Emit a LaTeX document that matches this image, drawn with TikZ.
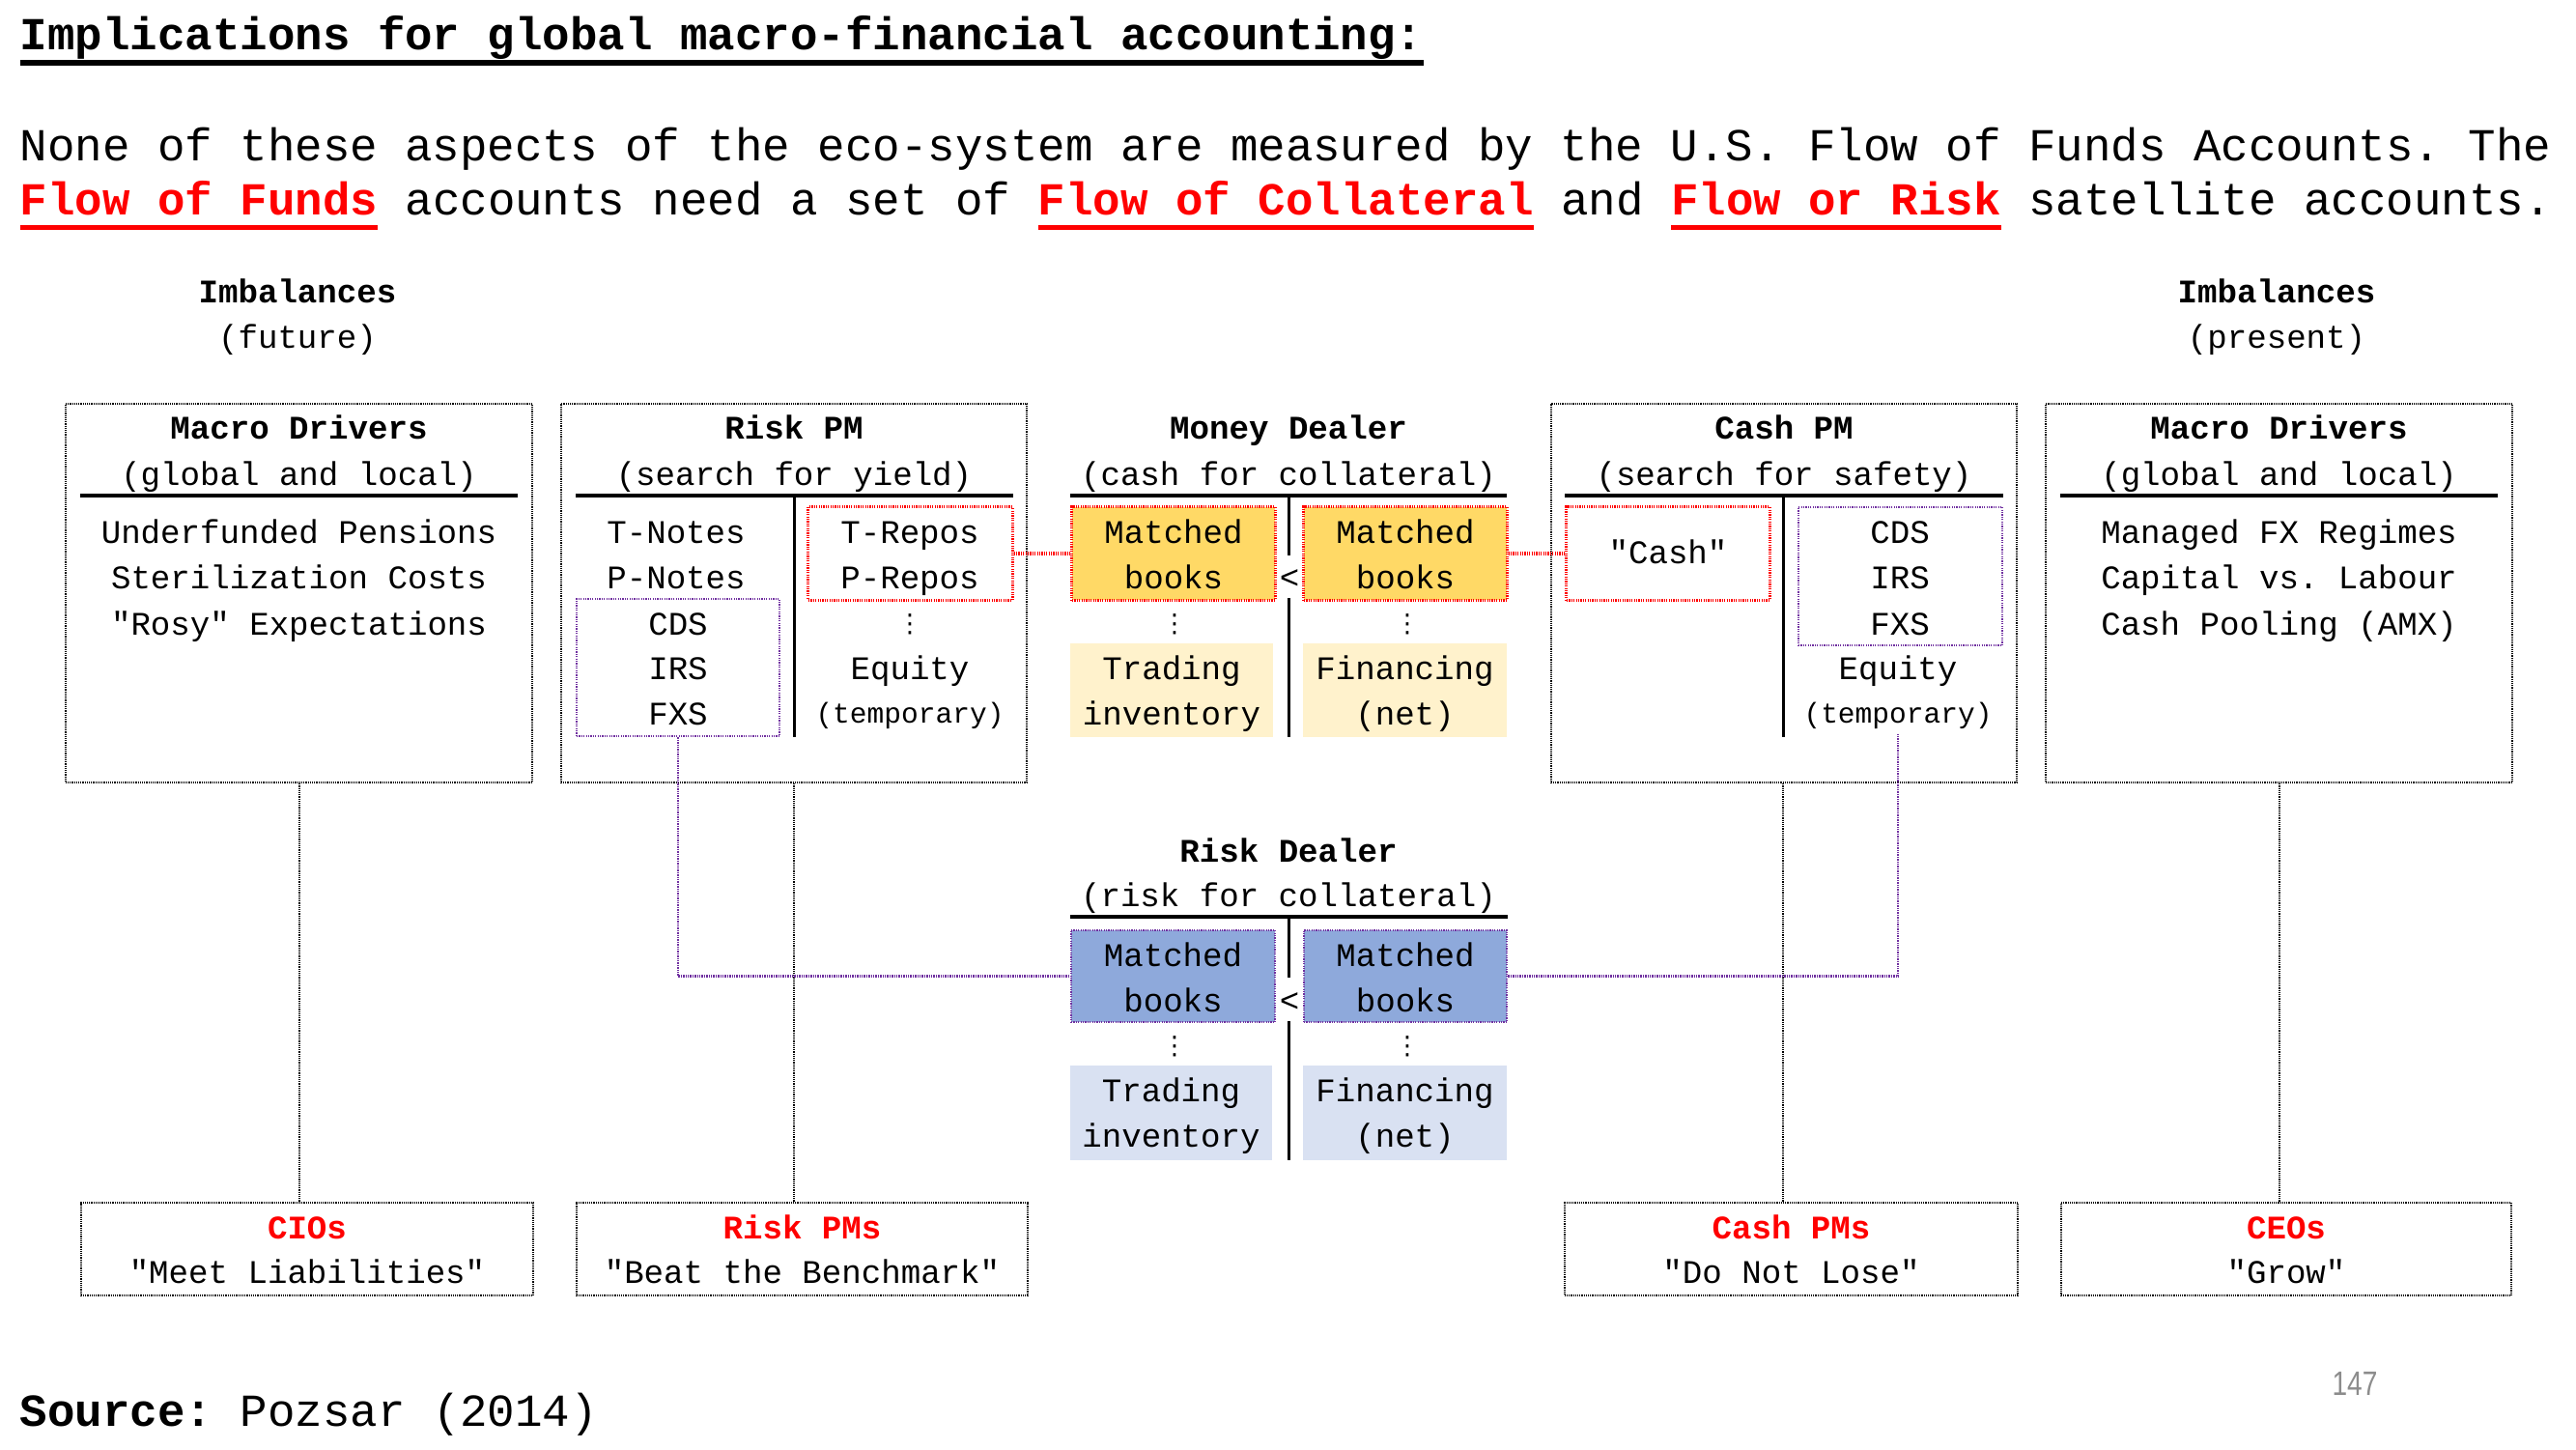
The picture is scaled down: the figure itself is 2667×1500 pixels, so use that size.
\documentclass[tikz,border=0pt]{standalone}
\usepackage{fontspec}
\setmainfont{Liberation Mono}[Ligatures=TeXOff]
\newfontfamily\pagenumfont{Liberation Sans}
\newfontfamily\dotsfont{DejaVu Sans}
\definecolor{gold}{HTML}{FFD966}
\definecolor{lightgold}{HTML}{FFF2CC}
\definecolor{bluebk}{HTML}{8EA9DB}
\definecolor{lightbluebk}{HTML}{D9E1F2}
\definecolor{purp}{HTML}{7030A0}
\definecolor{pgray}{HTML}{8C8C8C}
\newcommand\myul[4]{\setbox0\hbox{#4}\rlap{\textcolor{#1}{\rule[-#2]{\wd0}{#3}}}\box0\relax}
\AtBeginDocument{\frenchspacing}
\begin{document}
\begin{tikzpicture}[x=0.01cm,y=-0.01cm,
  big/.style={font=\fontsize{13.5}{16}\selectfont, inner sep=0, anchor=base west},
  sm/.style={font=\fontsize{9.7}{12}\selectfont, inner sep=0, anchor=base},
  smb/.style={font=\fontsize{9.7}{12}\selectfont\bfseries, inner sep=0, anchor=base},
  tmp/.style={font=\fontsize{8.4}{10}\selectfont, inner sep=0, anchor=base},
  vd/.style={font=\dotsfont\fontsize{7.5}{8}\selectfont, inner sep=0, anchor=center},
  frame/.style={draw=black, line width=0.022cm, dash pattern=on 0.012cm off 0.01cm, inner sep=0},
  redbox/.style={draw=red, line width=0.03cm, dash pattern=on 0.012cm off 0.012cm, inner sep=0},
  purbox/.style={draw=purp, line width=0.028cm, dash pattern=on 0.012cm off 0.012cm, inner sep=0},
  plainbox/.style={inner sep=0},
  tline/.style={line width=0.04cm},
  dline/.style={line width=0.03cm},
  vline/.style={draw=black, line width=0.02cm, dash pattern=on 0.012cm off 0.01cm},
  redline/.style={draw=red, line width=0.035cm, dash pattern=on 0.012cm off 0.012cm},
  purline/.style={draw=purp, line width=0.026cm, dash pattern=on 0.014cm off 0.01cm}
]
\path[use as bounding box] (0,0) rectangle (2667,1500);

% header
\node[big, font=\fontsize{13.5}{16}\selectfont\bfseries] (title) at (20,52)
  {\myul{black}{0.16cm}{0.06cm}{Implications for global macro-financial accounting:}};
\node[big] (line1) at (20,167)
  {None of these aspects of the eco-system are measured by the U.S. Flow of Funds Accounts. The};
\node[big] (line2) at (20,222)
  {\myul{red}{0.155cm}{0.05cm}{\textcolor{red}{\bfseries Flow of Funds}} accounts need a set of \myul{red}{0.155cm}{0.05cm}{\textcolor{red}{\bfseries Flow of Collateral}} and \myul{red}{0.155cm}{0.05cm}{\textcolor{red}{\bfseries Flow or Risk}} satellite accounts.};

% imbalances
\node[smb] (imbL) at (308,313) {Imbalances};
\node[sm] (futL) at (308,360) {(future)};
\node[smb] (imbR) at (2357,313) {Imbalances};
\node[sm] (presR) at (2357,360) {(present)};

% outer frames
\node[frame, minimum width=4.83cm, minimum height=3.92cm] (mdL) at (309.5,614) {};
\node[frame, minimum width=4.82cm, minimum height=3.92cm] (rpm) at (822,614) {};
\node[frame, minimum width=4.82cm, minimum height=3.92cm] (cpm) at (1847,614) {};
\node[frame, minimum width=4.83cm, minimum height=3.92cm] (mdR) at (2359.5,614) {};

% ---- Macro Drivers left
\node[smb] (mdLt) at (309.5,454) {Macro Drivers};
\node[sm] (mdLs) at (309.5,502) {(global and local)};
\draw[tline] (83,513) -- (536,513);
\node[sm] (mdL1) at (309.5,562) {Underfunded Pensions};
\node[sm] (mdL2) at (309.5,609) {Sterilization Costs};
\node[sm] (mdL3) at (309.5,657) {"Rosy" Expectations};

% ---- Risk PM
\node[smb] (rpmt) at (822,454) {Risk PM};
\node[sm] (rpms) at (822,502) {(search for yield)};
\draw[tline] (596,513) -- (1049,513);
\draw[dline] (822,513) -- (822,763);
\node[purbox, minimum width=2.10cm, minimum height=1.42cm] (cdsL) at (702,691) {};
\node[redbox, minimum width=2.11cm, minimum height=0.96cm] (trepo) at (942.5,573) {};
\node[sm] (tn) at (700,562) {T-Notes};
\node[sm] (pn) at (700,609) {P-Notes};
\node[sm] (cdsa) at (702,657) {CDS};
\node[sm] (irsa) at (702,703) {IRS};
\node[sm] (fxsa) at (702,750) {FXS};
\node[sm] (tr) at (942,562) {T-Repos};
\node[sm] (pr) at (942,609) {P-Repos};
\node[vd] (vda) at (942,646) {⋮};
\node[sm] (eqa) at (942,703) {Equity};
\node[tmp] (tpa) at (942,748) {(temporary)};

% ---- Money Dealer
\node[smb] (mdt) at (1334,454) {Money Dealer};
\node[sm] (mds) at (1334,502) {(cash for collateral)};
\draw[tline] (1108,513) -- (1560,513);
\draw[dline] (1334,513) -- (1334,575);
\draw[dline] (1334,619) -- (1334,763);
\node[redbox, fill=gold, minimum width=2.10cm, minimum height=0.96cm] (mbL) at (1215,573) {};
\node[redbox, fill=gold, minimum width=2.10cm, minimum height=0.96cm] (mbR) at (1455,573) {};
\node[sm] (mbL1) at (1215,562) {Matched};
\node[sm] (mbL2) at (1215,609) {books};
\node[sm] (mbR1) at (1455,562) {Matched};
\node[sm] (mbR2) at (1455,609) {books};
\node[sm] (lt1) at (1335,609) {<};
\node[vd] (vdb) at (1216,646) {⋮};
\node[vd] (vdc) at (1457,646) {⋮};
\node[plainbox, fill=lightgold, minimum width=2.10cm, minimum height=0.97cm] (tiL) at (1213,714.5) {};
\node[plainbox, fill=lightgold, minimum width=2.11cm, minimum height=0.97cm] (fnR) at (1454.5,714.5) {};
\node[sm] (ti1) at (1213,703) {Trading};
\node[sm] (ti2) at (1213,750) {inventory};
\node[sm] (fn1) at (1454.5,703) {Financing};
\node[sm] (fn2) at (1454.5,750) {(net)};

% ---- Cash PM
\node[smb] (cpmt) at (1847,454) {Cash PM};
\node[sm] (cpms) at (1847,502) {(search for safety)};
\draw[tline] (1620,513) -- (2074,513);
\draw[dline] (1846,513) -- (1846,763);
\node[redbox, minimum width=2.10cm, minimum height=0.96cm] (cashbox) at (1727,573) {};
\node[sm] (cashtxt) at (1727,583) {"Cash"};
\node[purbox, minimum width=2.11cm, minimum height=1.43cm] (cdsR) at (1967.5,596.5) {};
\node[sm] (cdsb) at (1967,562) {CDS};
\node[sm] (irsb) at (1967,609) {IRS};
\node[sm] (fxsb) at (1967,657) {FXS};
\node[sm] (eqb) at (1965,703) {Equity};
\node[tmp] (tpb) at (1965,748) {(temporary)};
\coordinate (tempend) at (1965,760);

% ---- Macro Drivers right
\node[smb] (mdRt) at (2359.5,454) {Macro Drivers};
\node[sm] (mdRs) at (2359.5,502) {(global and local)};
\draw[tline] (2133,513) -- (2586,513);
\node[sm] (mdR1) at (2359.5,562) {Managed FX Regimes};
\node[sm] (mdR2) at (2359.5,609) {Capital vs. Labour};
\node[sm] (mdR3) at (2359.5,657) {Cash Pooling (AMX)};

% ---- Risk Dealer
\node[smb] (rdt) at (1334,892) {Risk Dealer};
\node[sm] (rds) at (1334,938) {(risk for collateral)};
\draw[tline] (1108,949) -- (1561,949);
\draw[dline] (1334,949) -- (1334,1012);
\draw[dline] (1334,1057) -- (1334,1201);
\node[purbox, fill=bluebk, minimum width=2.11cm, minimum height=0.95cm] (rbL) at (1214.5,1010.5) {};
\node[purbox, fill=bluebk, minimum width=2.10cm, minimum height=0.95cm] (rbR) at (1455,1010.5) {};
\node[sm] (rbL1) at (1214.5,1000) {Matched};
\node[sm] (rbL2) at (1214.5,1047) {books};
\node[sm] (rbR1) at (1455,1000) {Matched};
\node[sm] (rbR2) at (1455,1047) {books};
\node[sm] (lt2) at (1335,1047) {<};
\node[vd] (vdd) at (1216,1083) {⋮};
\node[vd] (vde) at (1457,1083) {⋮};
\node[plainbox, fill=lightbluebk, minimum width=2.09cm, minimum height=0.98cm] (tiL2) at (1212.5,1152) {};
\node[plainbox, fill=lightbluebk, minimum width=2.11cm, minimum height=0.98cm] (fnR2) at (1454.5,1152) {};
\node[sm] (ti3) at (1212.5,1140) {Trading};
\node[sm] (ti4) at (1212.5,1187) {inventory};
\node[sm] (fn3) at (1454.5,1140) {Financing};
\node[sm] (fn4) at (1454.5,1187) {(net)};

% ---- bottom boxes
\node[frame, minimum width=4.68cm, minimum height=0.96cm] (cios) at (318,1293) {};
\node[frame, minimum width=4.67cm, minimum height=0.96cm] (rpmsb) at (830.5,1293) {};
\node[frame, minimum width=4.69cm, minimum height=0.96cm] (cpmsb) at (1854.5,1293) {};
\node[frame, minimum width=4.66cm, minimum height=0.96cm] (ceos) at (2367,1293) {};
\node[smb, text=red] (cios1) at (318,1282) {CIOs};
\node[sm] (cios2) at (318,1328) {"Meet Liabilities"};
\node[smb, text=red] (rpms1) at (830.5,1282) {Risk PMs};
\node[sm] (rpms2) at (830.5,1328) {"Beat the Benchmark"};
\node[smb, text=red] (cpms1) at (1854.5,1282) {Cash PMs};
\node[sm] (cpms2) at (1854.5,1328) {"Do Not Lose"};
\node[smb, text=red] (ceos1) at (2367,1282) {CEOs};
\node[sm] (ceos2) at (2367,1328) {"Grow"};

% ---- connectors
\draw[vline] (mdL.south) -- (mdL.south |- cios.north);
\draw[vline] (rpm.south) -- (rpm.south |- rpmsb.north);
\draw[vline] ([xshift=-0.01cm]cpm.south) -- ([xshift=-0.01cm]cpm.south |- cpmsb.north);
\draw[vline] (mdR.south) -- (mdR.south |- ceos.north);
\draw[redline] (trepo.east) -- (mbL.west);
\draw[redline] (mbR.east) -- (cashbox.west);
\draw[purline] (cdsL.south) |- (rbL.west);
\draw[purline] (rbR.east) -| (tempend);

% ---- footer
\node[big] (src) at (20,1476) {{\bfseries Source:} Pozsar (2014)};
\node[inner sep=0, anchor=center, text=pgray, xscale=0.8, font=\pagenumfont\fontsize{10}{12}\selectfont] (pnum) at (2438,1432) {147};
\end{tikzpicture}
\end{document}
